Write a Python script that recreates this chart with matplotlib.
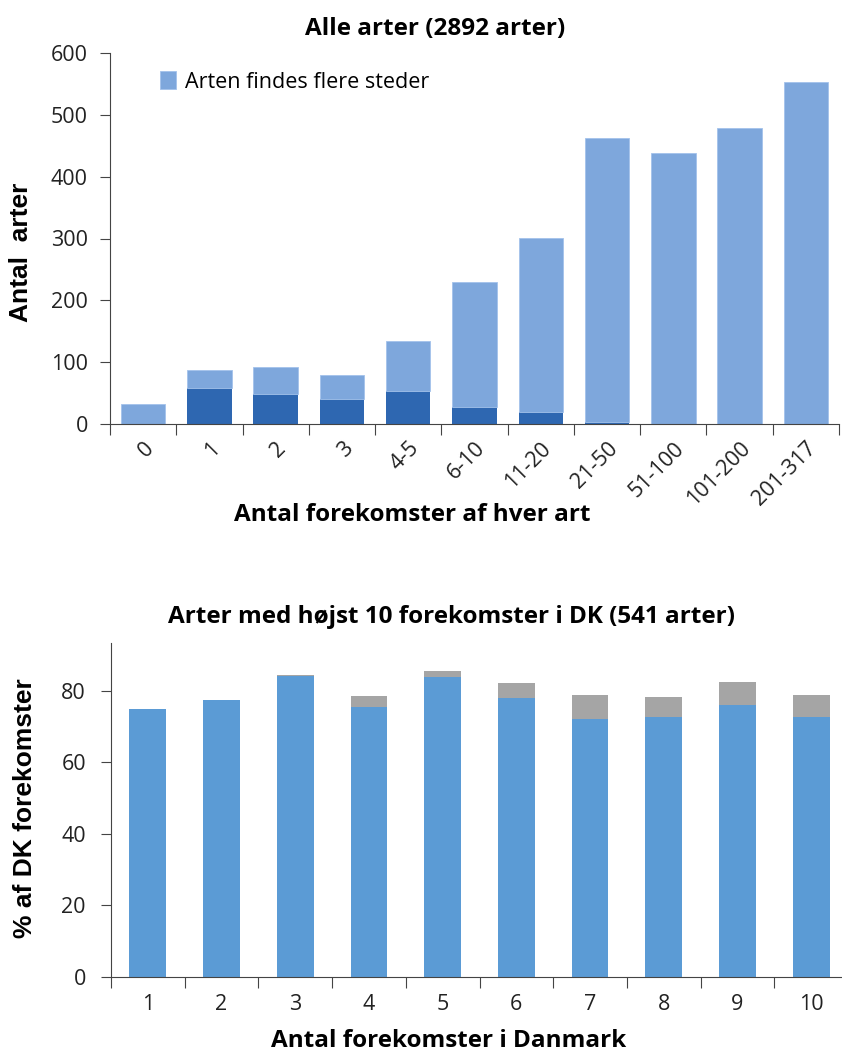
import matplotlib
matplotlib.use("Agg")
import matplotlib.pyplot as plt
import numpy as np

# ---- Data: top chart ----
categories_top = ["0", "1", "2", "3", "4-5", "6-10", "11-20", "21-50", "51-100", "101-200", "201-317"]
total_top = [33, 87, 92, 80, 134, 230, 301, 462, 438, 479, 553]
single_site = [0, 59, 49, 40, 53, 28, 20, 3, 0, 0, 0]
multi_site = [t - s for t, s in zip(total_top, single_site)]

# ---- Data: bottom chart ----
categories_bot = ["1", "2", "3", "4", "5", "6", "7", "8", "9", "10"]
blue_bot = [74.8, 77.4, 84.2, 75.4, 83.8, 77.8, 72.2, 72.7, 75.9, 72.5]
total_bot = [74.8, 77.4, 84.5, 78.5, 85.6, 82.0, 78.7, 78.1, 82.4, 78.7]
gray_bot = [t - b for t, b in zip(total_bot, blue_bot)]

FONT = ["Open Sans", "DejaVu Sans"]
BOLD_LBL = ["Liberation Sans", "DejaVu Sans"]
TICK_FS = 15.5
HEAD_FS = 17.5
YLBL_FS = 19

W, H = 842, 1054
fig = plt.figure(figsize=(W / 100, H / 100), dpi=100)

def ax_rect(l, r, t, b):
    return [l / W, 1 - b / H, (r - l) / W, (b - t) / H]

def ftext(x, y, s, **kw):
    fig.text(x / W, 1 - y / H, s, ha="center", va="center", **kw)

# ---------------- Top chart ----------------
ax1 = fig.add_axes(ax_rect(110, 839, 53, 424))
x = np.arange(len(categories_top))
ax1.bar(x, single_site, width=0.67, color="#2E67B1", zorder=2)
ax1.bar(x, multi_site, bottom=single_site, width=0.67, color="#7EA7DC",
        edgecolor="#A3C2EB", linewidth=0.6, label="Arten findes flere steder", zorder=2)
ax1.set_xlim(-0.5, len(categories_top) - 0.5)
ax1.set_ylim(0, 600)
ax1.set_yticks(range(0, 601, 100))
ax1.set_xticks(np.arange(-0.5, len(categories_top), 1.0))
ax1.set_xticklabels([])
ax1.set_xticks(x, minor=True)
ax1.set_xticklabels(categories_top, minor=True, rotation=45, ha="right",
                    rotation_mode="anchor", fontsize=TICK_FS, family=FONT, color="#222")
ax1.tick_params(axis="x", which="minor", length=0, pad=10)
ax1.tick_params(axis="x", which="major", length=8, direction="out", color="#444")
ax1.tick_params(axis="y", length=7, direction="out", color="#444", labelsize=TICK_FS,
                pad=9, labelcolor="#222")
for lbl in ax1.get_yticklabels():
    lbl.set_family(FONT)
for s in ["top", "right"]:
    ax1.spines[s].set_visible(False)
for s in ["left", "bottom"]:
    ax1.spines[s].set_color("#444")
leg = ax1.legend(loc="center left", bbox_to_anchor=((160 - 110) / 729, (424 - 82) / 371),
                 frameon=False, prop={"family": FONT, "size": TICK_FS},
                 handlelength=0.75, handleheight=0.9, handletextpad=0.4, borderaxespad=0,
                 borderpad=0)

ftext(435, 29, "Alle arter (2892 arter)", fontsize=HEAD_FS, fontweight="bold", family=FONT)
ftext(21, 252, "Antal  arter", fontsize=YLBL_FS, fontweight="bold", family=BOLD_LBL, rotation=90)
ftext(412, 515, "Antal forekomster af hver art", fontsize=HEAD_FS, fontweight="bold", family=FONT)

# ---------------- Bottom chart ----------------
ax2 = fig.add_axes(ax_rect(111, 848, 643, 977))
xb = np.arange(len(categories_bot))
ax2.bar(xb, blue_bot, width=0.5, color="#5B9BD5", zorder=2)
ax2.bar(xb, gray_bot, bottom=blue_bot, width=0.5, color="#A5A5A5", zorder=2)
ax2.set_xlim(-0.5, len(categories_bot) - 0.5)
ax2.set_ylim(0, 93.3)
ax2.set_yticks(range(0, 81, 20))
ax2.set_xticks(np.arange(-0.5, len(categories_bot), 1.0))
ax2.set_xticklabels([])
ax2.set_xticks(xb, minor=True)
ax2.set_xticklabels(categories_bot, minor=True, fontsize=TICK_FS, family=FONT, color="#222")
ax2.tick_params(axis="x", which="minor", length=0, pad=12)
ax2.tick_params(axis="x", which="major", length=8, direction="out", color="#444")
ax2.tick_params(axis="y", length=7, direction="out", color="#444", labelsize=TICK_FS,
                pad=11, labelcolor="#222")
for lbl in ax2.get_yticklabels():
    lbl.set_family(FONT)
for s in ["top", "right"]:
    ax2.spines[s].set_visible(False)
for s in ["left", "bottom"]:
    ax2.spines[s].set_color("#444")

ftext(452, 617, "Arter med højst 10 forekomster i DK (541 arter)", fontsize=HEAD_FS,
      fontweight="bold", family=FONT)
ftext(25, 808, "% af DK forekomster", fontsize=YLBL_FS, fontweight="bold", family=BOLD_LBL, rotation=90)
ftext(449, 1041, "Antal forekomster i Danmark", fontsize=HEAD_FS, fontweight="bold", family=FONT)

fig.savefig("out.png", dpi=100)
